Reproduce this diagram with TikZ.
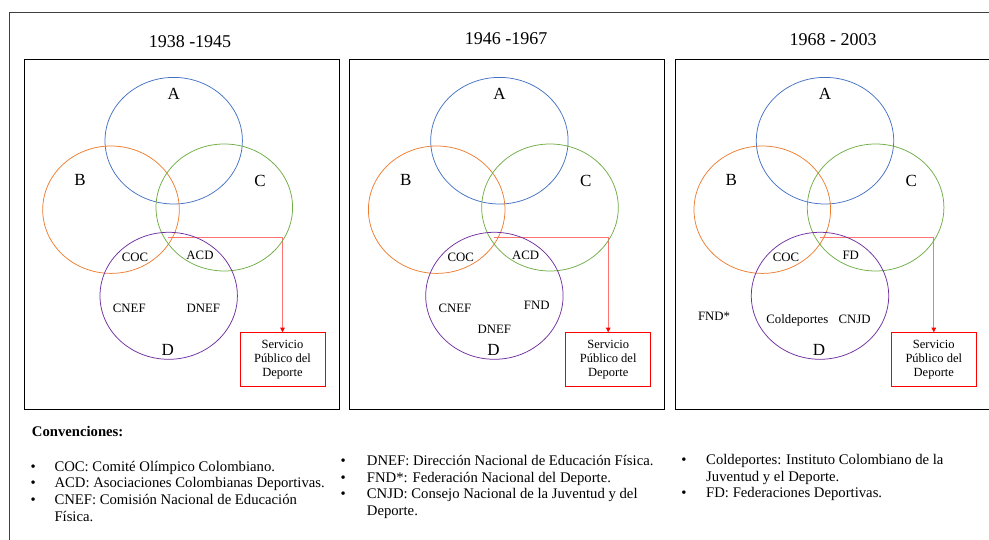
\documentclass[tikz,border=0pt]{standalone}
\usepackage{fontspec}
\setmainfont{Liberation Serif}
\usetikzlibrary{arrows.meta}
\definecolor{azul}{HTML}{4472C4}
\definecolor{naranja}{HTML}{ED7D31}
\definecolor{verde}{HTML}{70AD47}
\definecolor{morado}{HTML}{7030A0}
\newcommand{\tam}[2]{\fontsize{#1}{#2}\selectfont}
\newcommand{\doslineas}[2]{\vtop{\hbox{#1}\hbox{#2}}}

\begin{document}
\begin{tikzpicture}[x=1pt,y=-1pt,
	letra/.style={font=\tam{17}{20},anchor=base},
	sigla/.style={font=\tam{12.8}{15},anchor=base},
	titulo/.style={font=\tam{18}{21},anchor=base},
	servicio/.style={draw=red,line width=0.9pt,minimum width=85pt,minimum height=54pt,align=center,font=\tam{12.5}{14.2},inner sep=0pt},
	conv/.style={font=\tam{14.7}{16.7},anchor=base west,inner sep=0pt},
	vineta/.style={font=\tam{14.7}{16.7},anchor=base,inner sep=0pt}]

	\useasboundingbox (0,0) rectangle (989,540);
	\clip (0,0) rectangle (989,540);

%	marco de afuera
	\draw[black!75,line width=0.8pt] (9,12) rectangle (1000,560);

	\node[titulo] (t1) at (190,47.3) {1938 -1945};
	\node[titulo] (t2) at (506,45) {1946 -1967};
	\node[titulo] (t3) at (833,45.7) {1968 - 2003};

	\foreach \p/\dx in {1/0,2/325.7,3/651.3} {
	\begin{scope}[xshift=\dx]
	\draw[line width=0.8pt] (24,59.3) rectangle (339,409.7);

	\coordinate (ini\p) at (168.3,237.3);
	\node[servicio] (serv\p) at (282.5,359.7) {Servicio\\Público del\\Deporte};
	\draw[red!55,line width=0.7pt,-{Triangle[width=4.5pt,length=4.5pt,color=red]}] (ini\p) -| (serv\p.north);

	\draw[azul,line width=0.75pt] (173.7,140.7) ellipse [x radius=68.7pt,y radius=63.3pt];
	\draw[naranja,line width=0.75pt] (111,209.7) ellipse [x radius=68.3pt,y radius=63.7pt];
	\draw[verde,line width=0.75pt] (224.3,207.5) ellipse [x radius=68.3pt,y radius=63.5pt];
	\draw[morado,line width=0.75pt] (168.7,295.8) ellipse [x radius=68.7pt,y radius=63.5pt];

	\node[letra] (A\p) at (173.7,99.3) {A};
	\node[letra] (B\p) at (80,186) {B};
	\node[letra] (C\p) at (260,186.7) {C};
	\node[letra] (D\p) at (167.7,355.3) {D};
	\end{scope}
	}

%	1938-1945
	\node[sigla] (coc1) at (135,261.7) {COC};
	\node[sigla] (acd1) at (200,259.3) {ACD};
	\node[sigla] (cnef1) at (129.3,312.3) {CNEF};
	\node[sigla] (dnef1) at (203.3,312.3) {DNEF};

%	1946-1967
	\node[sigla] (coc2) at (460.7,261.7) {COC};
	\node[sigla] (acd2) at (525.7,259.3) {ACD};
	\node[sigla] (cnef2) at (455,312.3) {CNEF};
	\node[sigla] (fnd2) at (536.7,310) {FND};
	\node[sigla] (dnef2) at (494.3,333.3) {DNEF};

%	1968-2003
	\node[sigla] (coc3) at (786,261.7) {COC};
	\node[sigla] (fd3) at (850.7,259.3) {FD};
	\node[sigla] (fnd3) at (714,320.7) {FND*};
	\node[sigla] (coldep3) at (797.3,323.3) {Coldeportes};
	\node[sigla] (cnjd3) at (854.5,323.3) {CNJD};

%	convenciones
	\node[font=\bfseries\tam{14.7}{16.7},anchor=base west,inner sep=0pt] (conv) at (31.7,436) {Convenciones:};

	\node[vineta] (v1) at (33.3,471) {\textbullet};
	\node[vineta] (v2) at (33.3,487.7) {\textbullet};
	\node[vineta] (v3) at (33.3,504.4) {\textbullet};
	\node[conv] (coc) at (54.3,471) {COC: Comité Olímpico Colombiano.};
	\node[conv] (acd) at (54.3,487.7) {ACD: Asociaciones Colombianas Deportivas.};
	\node[conv] (cnef) at (54.3,504.4) {\doslineas{CNEF: Comisión Nacional de Educación}{Física.}};

	\node[vineta] (v4) at (343.3,465.5) {\textbullet};
	\node[vineta] (v5) at (343.3,482.2) {\textbullet};
	\node[vineta] (v6) at (343.3,498.9) {\textbullet};
	\node[conv] (dnef) at (366.7,465.5) {DNEF: Dirección Nacional de Educación Física.};
	\node[conv] (fnd) at (366.7,482.2) {FND*: Federación Nacional del Deporte.};
	\node[conv] (cnjd) at (366.7,498.9) {\doslineas{CNJD: Consejo Nacional de la Juventud y del}{Deporte.}};

	\node[vineta] (v7) at (684,464.5) {\textbullet};
	\node[vineta] (v8) at (684,497.9) {\textbullet};
	\node[conv] (coldep) at (706,464.5) {\doslineas{Coldeportes: Instituto Colombiano de la}{Juventud y el Deporte.}};
	\node[conv] (fd) at (706,497.9) {FD: Federaciones Deportivas.};

	\end{tikzpicture}
\end{document}
